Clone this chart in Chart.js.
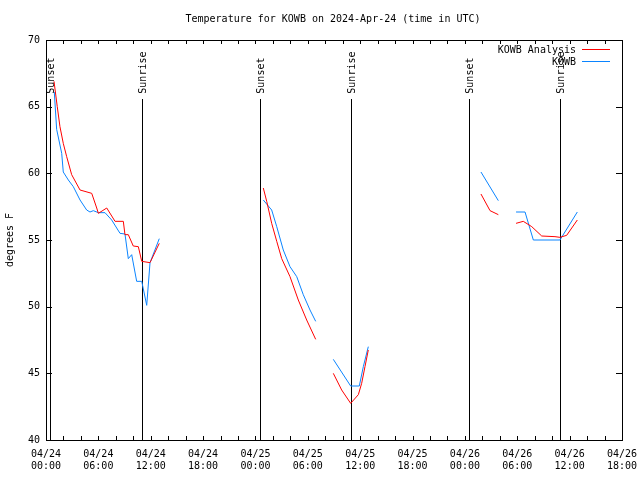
<!DOCTYPE html>
<html>
<head>
<meta charset="utf-8">
<script src="https://cdn.jsdelivr.net/npm/chart.js@4/dist/chart.umd.min.js"></script>
<style>
  html, body { margin: 0; padding: 0; background: #fff; }
  #wrap { width: 640px; height: 480px; }
</style>
</head>
<body>
<div id="wrap"><canvas id="chart" width="640" height="480"></canvas></div>
<script>
// hours since 04/24 00:00 UTC, null = gap in the record
const analysisHours = [0.92, 1.29, 1.60, 1.98, 2.37, 2.94, 3.90, 5.24, 5.81, 6.00, 6.96, 7.91, 8.86, 9.05, 9.43, 10.00, 10.58, 10.97, 11.92, 12.98,
  18, 24.90, 25.29, 25.86, 26.44, 27.01, 27.96, 28.91, 29.87, 30.90,
  32, 32.92, 33.88, 34.91, 35.79, 36.17, 36.55, 36.93,
  43, 49.84, 50.88, 51.83,
  52.8, 53.86, 54.69, 55.66, 56.80, 58.32, 58.89, 59.66, 60.88];
const analysisTemps = [66.9, 65.0, 63.5, 62.25, 61.25, 59.9, 58.75, 58.5, 57.4, 57.0, 57.4, 56.4, 56.4, 55.4, 55.4, 54.55, 54.5, 53.4, 53.3, 54.75,
  null, 58.9, 57.9, 56.25, 54.9, 53.6, 52.25, 50.5, 49.0, 47.55,
  null, 45.0, 43.75, 42.75, 43.4, 44.25, 45.5, 46.75,
  null, 58.45, 57.2, 56.9,
  null, 56.25, 56.4, 56.0, 55.3, 55.25, 55.2, 55.35, 56.5];

const obsHours = [0.95, 1.22, 1.80, 1.98, 2.56, 3.13, 3.90, 4.66, 5.04, 5.42, 6.00, 6.76, 7.53, 8.48, 9.05, 9.43, 9.82, 10.39, 10.97, 11.54, 11.92, 12.98,
  18, 24.90, 25.86, 26.44, 27.19, 27.96, 28.73, 29.48, 30.25, 30.90,
  32, 32.92, 34.91, 35.90, 36.36, 36.93,
  43, 49.84, 51.83,
  52.8, 53.86, 54.89, 55.84, 58.89, 60.88];
const obsTemps = [66.1, 63.3, 61.5, 60.1, 59.5, 59.0, 58.0, 57.25, 57.1, 57.2, 57.05, 57.05, 56.5, 55.5, 55.45, 53.6, 53.9, 51.9, 51.9, 50.1, 53.3, 55.1,
  null, 58.0, 57.25, 56.0, 54.25, 53.0, 52.25, 50.9, 49.75, 48.9,
  null, 46.05, 44.05, 44.05, 45.5, 47.0,
  null, 60.1, 57.95,
  null, 57.1, 57.1, 55.0, 55.0, 57.1];

const sunHours = [0.46, 11.0, 24.52, 34.95, 48.47, 58.9];
const sunLabels = ["Sunset", "Sunrise", "Sunset", "Sunrise", "Sunset", "Sunrise"];
const sunLineTop = 65.6;

const dateLabels = ["04/24", "04/24", "04/24", "04/24", "04/25", "04/25", "04/25", "04/25", "04/26", "04/26", "04/26", "04/26"];
const timeLabels = ["00:00", "06:00", "12:00", "18:00", "00:00", "06:00", "12:00", "18:00", "00:00", "06:00", "12:00", "18:00"];
const yTicks = [40, 45, 50, 55, 60, 65, 70];

const FONT = "DejaVu Sans Mono";
const RED = "#ff0000";
const BLUE = "#0a84ff";

const toPoints = (xs, ys) => xs.map((x, i) => ({ x: x, y: ys[i] }));

// sunrise/sunset markers go under the data lines
const sunMarks = {
  id: "sunMarks",
  beforeDatasetsDraw(chart) {
    const { ctx, scales } = chart;
    const xs = scales.x, ys = scales.y;
    const top = Math.round(ys.getPixelForValue(sunLineTop));
    const bottom = ys.getPixelForValue(40);
    ctx.save();
    ctx.strokeStyle = "#000";
    ctx.lineWidth = 1;
    ctx.beginPath();
    sunHours.forEach(h => {
      const px = Math.round(xs.getPixelForValue(h)) + 0.5;
      ctx.moveTo(px, top);
      ctx.lineTo(px, bottom);
    });
    ctx.stroke();
    ctx.restore();
  }
};

// gnuplot-ish frame, inward ticks, title, labels, legend
const decor = {
  id: "decor",
  afterDatasetsDraw(chart) {
    const { ctx, chartArea: a, scales } = chart;
    const xs = scales.x, ys = scales.y;
    ctx.save();
    ctx.strokeStyle = "#000";
    ctx.lineWidth = 1;
    ctx.strokeRect(a.left + 0.5, a.top + 0.5, a.right - a.left, a.bottom - a.top);

    ctx.beginPath();
    for (let h = 0; h <= 66; h += 2) {
      const px = Math.round(xs.getPixelForValue(h)) + 0.5;
      ctx.moveTo(px, a.bottom); ctx.lineTo(px, a.bottom - 4);
      ctx.moveTo(px, a.top); ctx.lineTo(px, a.top + 4);
    }
    yTicks.forEach(v => {
      const py = Math.round(ys.getPixelForValue(v)) + 0.5;
      ctx.moveTo(a.left, py); ctx.lineTo(a.left + 6, py);
      ctx.moveTo(a.right, py); ctx.lineTo(a.right - 6, py);
    });
    ctx.stroke();

    ctx.fillStyle = "#000";
    ctx.font = "10px '" + FONT + "'";

    // sunrise / sunset labels
    sunHours.forEach((h, i) => {
      const px = Math.round(xs.getPixelForValue(h)) + 0.5;
      const py = ys.getPixelForValue(sunLineTop) - 5;
      ctx.save();
      ctx.translate(px + 1, py);
      ctx.rotate(-Math.PI / 2);
      ctx.textAlign = "left";
      ctx.textBaseline = "middle";
      ctx.fillText(sunLabels[i], 0, 0);
      ctx.restore();
    });

    // title
    ctx.textAlign = "center";
    ctx.textBaseline = "middle";
    ctx.fillText("Temperature for KOWB on 2024-Apr-24 (time in UTC)", 333, 19);

    // y axis title
    ctx.save();
    ctx.translate(10, (a.top + a.bottom) / 2);
    ctx.rotate(-Math.PI / 2);
    ctx.fillText("degrees F", 0, 0);
    ctx.restore();

    // legend
    const legend = [["KOWB Analysis", RED], ["KOWB", BLUE]];
    legend.forEach((item, i) => {
      const y = 50 + i * 12;
      ctx.textAlign = "right";
      ctx.fillStyle = "#000";
      ctx.fillText(item[0], 576, y);
      ctx.fillStyle = item[1];
      ctx.fillRect(582, y - 1, 28, 1);
    });
    ctx.restore();
  }
};

new Chart(document.getElementById("chart"), {
  type: "line",
  data: {
    datasets: [
      {
        label: "KOWB Analysis",
        data: toPoints(analysisHours, analysisTemps),
        borderColor: RED,
        borderWidth: 1,
        pointRadius: 0,
        spanGaps: false
      },
      {
        label: "KOWB",
        data: toPoints(obsHours, obsTemps),
        borderColor: BLUE,
        borderWidth: 1,
        pointRadius: 0,
        spanGaps: false
      }
    ]
  },
  options: {
    responsive: false,
    animation: false,
    layout: { padding: { left: 0, top: 40, right: 18, bottom: 0 } },
    plugins: { legend: { display: false }, tooltip: { enabled: false }, title: { display: false } },
    scales: {
      x: {
        type: "linear",
        min: 0,
        max: 66,
        afterFit: s => { s.height = 40; s.paddingLeft = 0; s.paddingRight = 0; },
        grid: { drawOnChartArea: false, drawTicks: false },
        border: { display: false },
        ticks: {
          stepSize: 6,
          autoSkip: false,
          maxRotation: 0,
          padding: 8,
          color: "#000",
          font: { family: FONT, size: 10 },
          callback: v => [dateLabels[v / 6], timeLabels[v / 6]]
        }
      },
      y: {
        min: 40,
        max: 70,
        afterFit: s => { s.width = 46; s.paddingTop = 0; s.paddingBottom = 0; },
        grid: { drawOnChartArea: false, drawTicks: false },
        border: { display: false },
        ticks: {
          stepSize: 5,
          padding: 6,
          color: "#000",
          font: { family: FONT, size: 10 }
        }
      }
    }
  },
  plugins: [sunMarks, decor]
});
</script>
</body>
</html>
